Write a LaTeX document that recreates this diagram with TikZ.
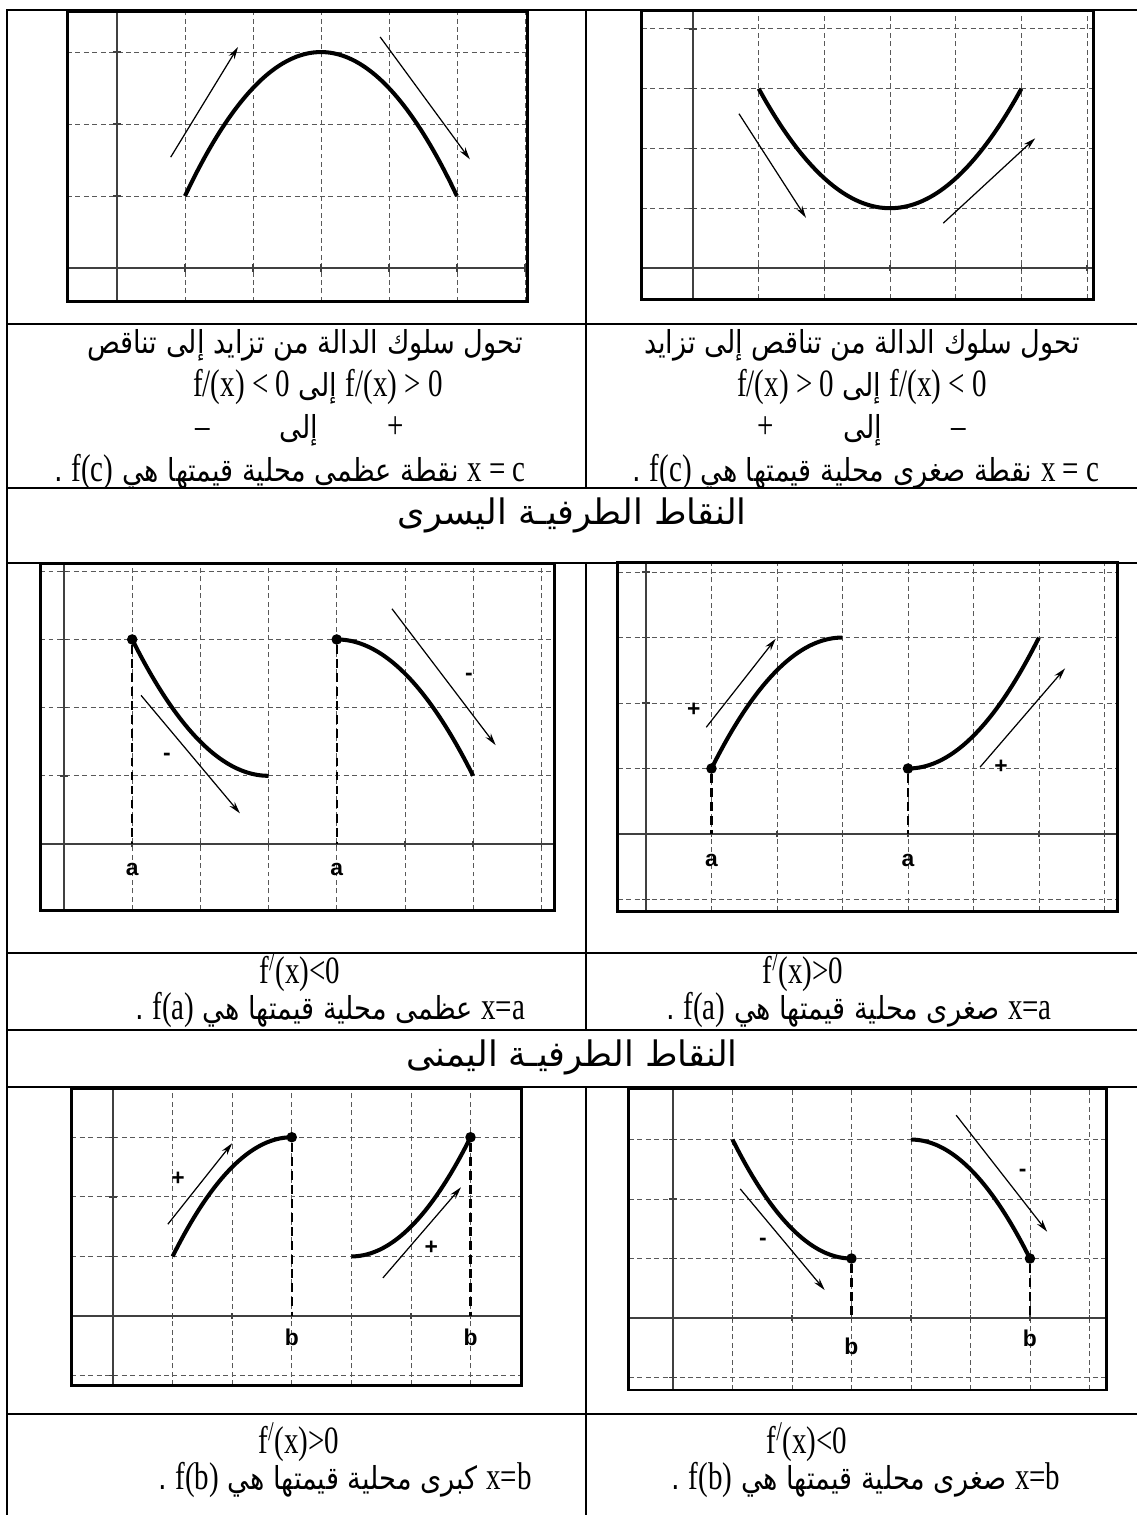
\documentclass[tikz,border=0pt]{standalone}
\usepackage{fontspec}
\setmainfont{Liberation Serif}
\newfontfamily\arfont[Script=Arabic,FakeStretch=0.86]{DejaVu Sans}
\newfontfamily\titlefont[Script=Arabic]{DejaVu Sans}
\newfontfamily\latfont[FakeStretch=0.75]{Liberation Serif}
\newfontfamily\lblfont{Liberation Sans}
\TeXXeTstate=1
\usetikzlibrary{arrows.meta}
\newcommand{\lrtext}[1]{{\latfont\fontsize{22}{26}\selectfont\beginL #1\endL}}
\newcommand{\plotbox}[6]{%
  \draw[gridline] \foreach \gx in {#5} {(\gx,#3) -- (\gx,#4)};
  \draw[gridline] \foreach \gy in {#6} {(#1,\gy) -- (#2,\gy)};
  \draw[axisline] (#1,0) -- (#2,0) (0,#3) -- (0,#4);
  \draw[axisline] \foreach \gx in {#5} {(\gx,-0.05) -- (\gx,0.05)}
                  \foreach \gy in {#6} {(-0.06,\gy) -- (0.06,\gy)};
  \draw[plotframe] (#1,#3) rectangle (#2,#4);}
\tikzset{
  tabline/.style={line width=1.6pt},
  plotframe/.style={line width=1.7pt},
  gridline/.style={black!65, line width=0.45pt, dash pattern=on 2.8pt off 2pt},
  axisline/.style={black!75, line width=0.8pt},
  graphcurve/.style={line width=2.3pt},
  slopearrow/.style={line width=0.7pt, -{Stealth[length=7pt,width=3.8pt]}},
  dropline/.style={line width=1.3pt, dash pattern=on 5pt off 3pt},
  endpt/.style={circle, fill, inner sep=0pt, minimum size=6pt},
  ptlabel/.style={font=\lblfont\bfseries\fontsize{13}{15}\selectfont, inner sep=0pt},
  arline/.style={font=\arfont\fontsize{18}{22}\selectfont, inner sep=0pt},
  titleline/.style={font=\titlefont\fontsize{20}{24}\selectfont, inner sep=0pt}
}
\begin{document}
\begin{tikzpicture}[x=0.02cm,y=-0.02cm]
\useasboundingbox (0,0) rectangle (1137,1515);
% table
\draw[tabline] (7,1515) -- (7,10) -- (1137,10);
\draw[tabline] \foreach \ry in {324,488,563,953,1030,1087,1414} {(7,\ry) -- (1137,\ry)};
\draw[tabline] (586,10) -- (586,488) (586,563) -- (586,1030) (586,1087) -- (586,1515);
% local maximum
\begin{scope}[shift={(117,268)},x=1.36cm,y=1.44cm]
\plotbox{-0.735}{6.04}{-0.47}{3.57}{1,...,6}{1,2,3}
\draw[graphcurve] plot[domain=1:5,samples=40,smooth] (\x,{3-(\x-3)^2/2});
\draw[slopearrow] (0.79,1.54) -- (1.78,3.07);
\draw[slopearrow] (3.87,3.21) -- (5.19,1.51);
\end{scope}
% local minimum
\begin{scope}[shift={(693,268)},x=1.314cm,y=1.196cm]
\plotbox{-0.78}{6.10}{-0.52}{4.30}{1,...,6}{1,2,3,4}
\draw[graphcurve] plot[domain=1:5,samples=40,smooth] (\x,{1+(\x-3)^2/2});
\draw[slopearrow] (0.70,2.58) -- (1.72,0.84);
\draw[slopearrow] (3.81,0.75) -- (5.21,2.17);
\end{scope}
\node[arline] (maxhead) at (305,345) {\beginR تحول سلوك الدالة من تزايد إلى تناقص\endR};
\node[arline] (maxsign) at (318,387) {\beginR\lrtext{f/(x) > 0} إلى \lrtext{f/(x) < 0}\endR};
\node[arline] (maxsym) at (300,430) {\beginR\lrtext{+}\hspace{2.2em}إلى\hspace{2.2em}\lrtext{–}\endR};
\node[arline] (maxres) at (290,472) {\beginR\lrtext{x = c} نقطة عظمى محلية قيمتها هي \lrtext{f(c)} .\endR};
\node[arline] (minhead) at (862,345) {\beginR تحول سلوك الدالة من تناقص إلى تزايد\endR};
\node[arline] (minsign) at (862,387) {\beginR\lrtext{f/(x) < 0} إلى \lrtext{f/(x) > 0}\endR};
\node[arline] (minsym) at (862,430) {\beginR\lrtext{–}\hspace{2.2em}إلى\hspace{2.2em}\lrtext{+}\endR};
\node[arline] (minres) at (866,472) {\beginR\lrtext{x = c} نقطة صغرى محلية قيمتها هي \lrtext{f(c)} .\endR};
% left end points
\node[titleline] (lefttitle) at (572,515) {\beginR النقاط الطرفيـة اليسرى\endR};
\begin{scope}[shift={(64,844)},x=1.364cm,y=1.364cm]
\plotbox{-0.35}{7.2}{-0.97}{4.12}{1,...,7}{1,2,3,4}
\draw[graphcurve] plot[domain=1:3,samples=30,smooth] (\x,{1+(3-\x)^2/2});
\draw[graphcurve] plot[domain=4:6,samples=30,smooth] (\x,{3-(\x-4)^2/2});
\node[endpt] (la1) at (1,3) {};
\node[endpt] (la2) at (4,3) {};
\coordinate (fa1) at (1,0);
\coordinate (fa2) at (4,0);
\draw[dropline] (la1) -- (fa1);
\draw[dropline] (la2) -- (fa2);
\node[ptlabel] (ta1) at (1,-0.38) {a};
\node[ptlabel] (ta2) at (4,-0.38) {a};
\draw[slopearrow] (1.13,2.18) -- (2.58,0.45);
\draw[slopearrow] (4.81,3.45) -- (6.33,1.45);
\node[ptlabel] (sa1) at (1.51,1.28) {-};
\node[ptlabel] (sa2) at (5.94,2.45) {-};
\end{scope}
\begin{scope}[shift={(646,834)},x=1.31cm,y=1.31cm]
\plotbox{-0.43}{7.2}{-1.18}{4.14}{1,...,7}{-1,1,2,3,4}
\draw[graphcurve] plot[domain=1:3,samples=30,smooth] (\x,{3-(\x-3)^2/2});
\draw[graphcurve] plot[domain=4:6,samples=30,smooth] (\x,{1+(\x-4)^2/2});
\node[endpt] (lb1) at (1,1) {};
\node[endpt] (lb2) at (4,1) {};
\coordinate (fb1) at (1,0);
\coordinate (fb2) at (4,0);
\draw[dropline] (lb1) -- (fb1);
\draw[dropline] (lb2) -- (fb2);
\node[ptlabel] (tb1) at (1,-0.40) {a};
\node[ptlabel] (tb2) at (4,-0.40) {a};
\draw[slopearrow] (0.92,1.63) -- (1.98,2.98);
\draw[slopearrow] (5.10,1.02) -- (6.40,2.53);
\node[ptlabel] (sb1) at (0.73,1.89) {+};
\node[ptlabel] (sb2) at (5.42,1.02) {+};
\end{scope}
\node[arline] (lmaxder) at (300,972) {\lrtext{f\textsuperscript{/}(x)<0}};
\node[arline] (lmaxres) at (330,1010) {\beginR\lrtext{x=a} عظمى محلية قيمتها هي \lrtext{f(a)} .\endR};
\node[arline] (lminder) at (803,972) {\lrtext{f\textsuperscript{/}(x)>0}};
\node[arline] (lminres) at (859,1010) {\beginR\lrtext{x=a} صغرى محلية قيمتها هي \lrtext{f(a)} .\endR};
% right end points
\node[titleline] (righttitle) at (572,1057) {\beginR النقاط الطرفيـة اليمنى\endR};
\begin{scope}[shift={(113,1316)},x=1.192cm,y=1.192cm]
\plotbox{-0.70}{6.86}{-1.16}{3.81}{1,...,6}{-1,1,2,3}
\draw[graphcurve] plot[domain=1:3,samples=30,smooth] (\x,{3-(\x-3)^2/2});
\draw[graphcurve] plot[domain=4:6,samples=30,smooth] (\x,{1+(\x-4)^2/2});
\node[endpt] (rc1) at (3,3) {};
\node[endpt] (rc2) at (6,3) {};
\coordinate (fc1) at (3,0);
\coordinate (fc2) at (6,0);
\draw[dropline] (rc1) -- (fc1);
\draw[dropline] (rc2) -- (fc2);
\node[ptlabel] (tc1) at (3,-0.35) {b};
\node[ptlabel] (tc2) at (6,-0.35) {b};
\draw[slopearrow] (0.92,1.54) -- (2.00,2.90);
\draw[slopearrow] (4.53,0.64) -- (5.84,2.16);
\node[ptlabel] (sc1) at (1.09,2.30) {+};
\node[ptlabel] (sc2) at (5.34,1.14) {+};
\end{scope}
\begin{scope}[shift={(673,1318)},x=1.19cm,y=1.19cm]
\plotbox{-0.74}{7.29}{-1.21}{3.85}{1,...,7}{-1,1,2,3}
\draw[graphcurve] plot[domain=1:3,samples=30,smooth] (\x,{1+(3-\x)^2/2});
\draw[graphcurve] plot[domain=4:6,samples=30,smooth] (\x,{3-(\x-4)^2/2});
\node[endpt] (rd1) at (3,1) {};
\node[endpt] (rd2) at (6,1) {};
\coordinate (fd1) at (3,0);
\coordinate (fd2) at (6,0);
\draw[dropline] (rd1) -- (fd1);
\draw[dropline] (rd2) -- (fd2);
\node[ptlabel] (td1) at (3,-0.47) {b};
\node[ptlabel] (td2) at (6,-0.34) {b};
\draw[slopearrow] (1.13,2.17) -- (2.55,0.47);
\draw[slopearrow] (4.76,3.41) -- (6.29,1.45);
\node[ptlabel] (sd1) at (1.51,1.28) {-};
\node[ptlabel] (sd2) at (5.88,2.44) {-};
\end{scope}
\node[arline] (rmaxder) at (299,1442) {\lrtext{f\textsuperscript{/}(x)>0}};
\node[arline] (rmaxres) at (345,1480) {\beginR\lrtext{x=b} كبرى محلية قيمتها هي \lrtext{f(b)} .\endR};
\node[arline] (rminder) at (807,1442) {\lrtext{f\textsuperscript{/}(x)<0}};
\node[arline] (rminres) at (866,1480) {\beginR\lrtext{x=b} صغرى محلية قيمتها هي \lrtext{f(b)} .\endR};
\end{tikzpicture}
\end{document}
